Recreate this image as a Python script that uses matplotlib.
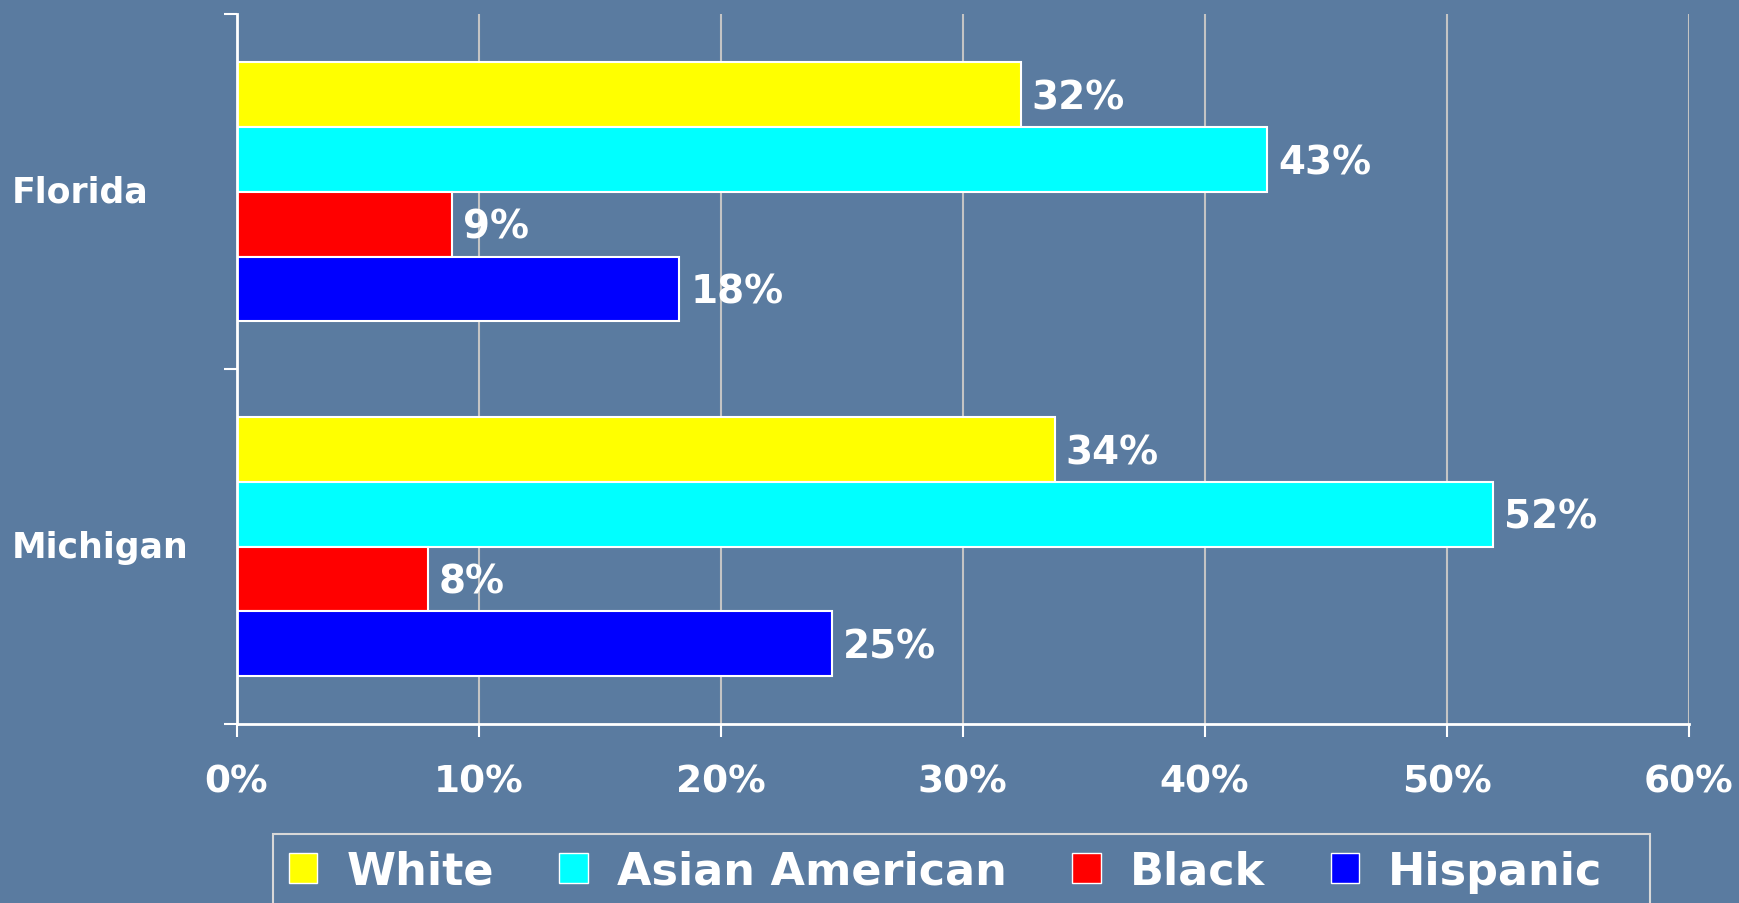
import matplotlib.pyplot as plt
import numpy as np
from matplotlib.patches import Patch, Rectangle

# Data (percent)
states = ['Florida', 'Michigan']
groups = ['White', 'Asian American', 'Black', 'Hispanic']
florida = [32.4, 42.6, 8.9, 18.3]
michigan = [33.8, 51.9, 7.9, 24.6]
colors = ['#ffff00', '#00ffff', '#ff0000', '#0000ff']
x_ticks = [0, 10, 20, 30, 40, 50, 60]

bg = '#5a7ba0'
plt.rcParams['font.family'] = 'DejaVu Sans'
plt.rcParams['font.weight'] = 'bold'

fig = plt.figure(figsize=(17.39, 9.04), dpi=100, facecolor=bg)
ax = fig.add_axes([0.136, 0.198, 0.835, 0.785])
ax.set_facecolor(bg)

values = np.array([florida, michigan])
y = np.arange(len(states))
h = 0.1825

for i, grp in enumerate(groups):
    pos = y + (i - 1.5) * h
    bars = ax.barh(pos, values[:, i], height=h, color=colors[i],
                   edgecolor='white', linewidth=1.5, zorder=3)
    for b, v in zip(bars, values[:, i]):
        ax.annotate(f'{v:.0f}%', xy=(v, b.get_y() + h / 2), xytext=(8, -2),
                    textcoords='offset points', va='center', ha='left',
                    color='white', fontsize=28, fontweight='bold')

ax.set_xlim(0, 60)
ax.set_ylim(1.5, -0.5)
ax.set_xticks(x_ticks)
ax.set_xticklabels([f'{t}%' for t in x_ticks], color='white', fontsize=27, fontweight='bold')
ax.set_yticks([-0.5, 0.5, 1.5])
ax.set_yticklabels([])
ax.tick_params(axis='x', direction='out', length=9.5, width=1.5, color='white', pad=19)
ax.tick_params(axis='y', direction='out', length=9.5, width=1.5, color='white')

ax.grid(axis='x', color='#c4c4c4', linewidth=1.5, zorder=0)
ax.set_axisbelow(True)
for s in ['top', 'right']:
    ax.spines[s].set_visible(False)
for s in ['left', 'bottom']:
    ax.spines[s].set_color('white')
    ax.spines[s].set_linewidth(2)
    ax.spines[s].set_zorder(4)

# category labels, left aligned near the figure edge
label_trans = ax.get_yaxis_transform().__class__(fig.transFigure, ax.transData)
for yi, name in zip(y, states):
    ax.text(0.007, yi, name, transform=label_trans,
            ha='left', va='center', color='white', fontsize=25, fontweight='bold')

# legend box (wider than its content, runs off the bottom edge)
fig.patches.append(Rectangle((0.157, -0.05), 0.792, 0.126, transform=fig.transFigure,
                             facecolor=bg, edgecolor='#d8d8d8', linewidth=1.5, zorder=1))

handles = [Patch(facecolor=c, edgecolor='white', linewidth=1) for c in colors]
leg = fig.legend(handles, groups, loc='upper left', bbox_to_anchor=(0.157, 0.076),
                 ncol=4, frameon=False, fontsize=32, handlelength=0.65, handleheight=0.65,
                 handletextpad=0.65, columnspacing=1.47, borderaxespad=0, borderpad=0.35)
leg.set_zorder(2)
for t in leg.get_texts():
    t.set_color('white')
    t.set_fontweight('bold')

fig.savefig('out.png', dpi=100, facecolor=bg)
